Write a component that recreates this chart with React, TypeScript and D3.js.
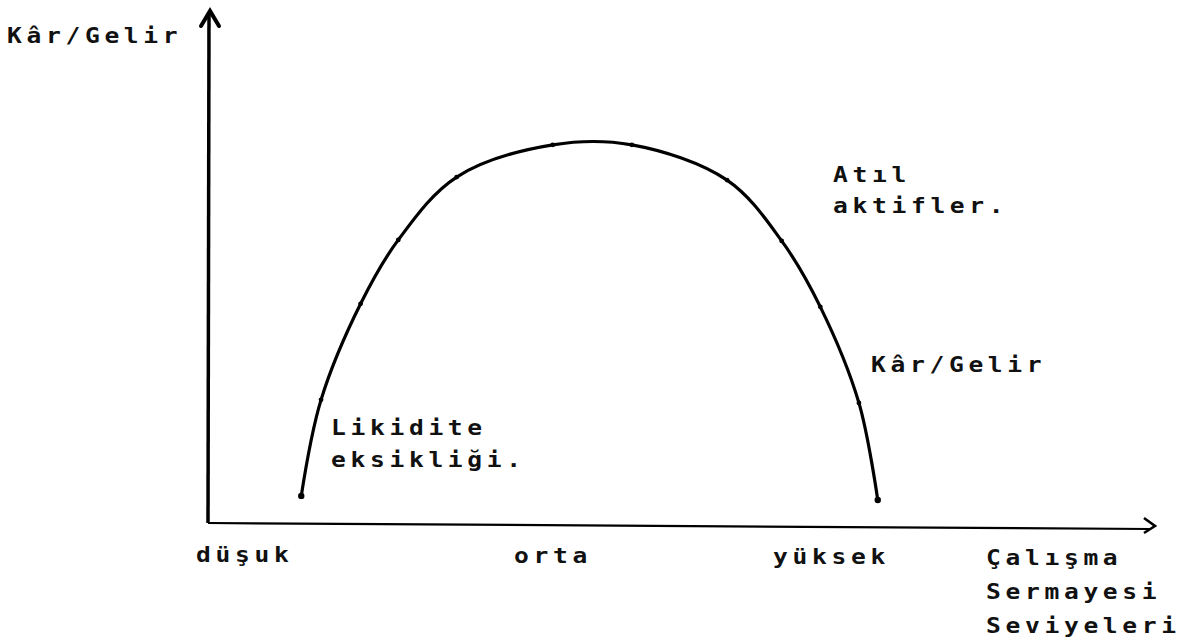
import React from "react";
import * as d3 from "d3";

// Working-capital level (x) vs. profit/income (y), both on a 0–100 relative scale
const capitalLevel = [9.9, 12.0, 16.2, 20.2, 26.4, 36.6, 45.0, 55.1, 60.9, 65.0, 69.1, 71.1];
const profitIncome = [5.3, 24.1, 42.9, 55.4, 67.7, 74.0, 74.0, 67.1, 55.2, 42.3, 23.5, 4.5];

// Axis wording
const yAxisTitle = "Kâr/Gelir";
const levelLabels = ["düşuk", "orta", "yüksek"];
const xAxisTitle = ["Çalışma", "Sermayesi", "Seviyeleri"];

// Annotations along the curve
const leftNote = ["Likidite", "eksikliği."];
const rightNote = ["Atıl", "aktifler."];
const curveLabel = "Kâr/Gelir";

const W = 1190;
const H = 637;

// Wide, typewriter-like monospace text
function Label({ x, y, children }: { x: number; y: number; children: string }) {
  return (
    <text
      transform={`translate(${x},${y}) scale(1.2,1)`}
      fontFamily="'DejaVu Sans Mono', 'Liberation Mono', monospace"
      fontSize={20.5}
      fontWeight={700}
      letterSpacing={3.9}
      fill="#111"
    >
      {children}
    </text>
  );
}

export default function App() {
  const x = d3.scaleLinear().domain([0, 100]).range([208, 1150]);
  const y = d3.scaleLinear().domain([0, 100]).range([523, 12]);

  const pts: [number, number][] = capitalLevel.map((c, i) => [x(c), y(profitIncome[i])]);
  const line = d3
    .line<[number, number]>()
    .x((d) => d[0])
    .y((d) => d[1])
    .curve(d3.curveCatmullRom.alpha(0.5));

  const x0 = x(0);
  const y0 = y(0);
  const xEnd = x(100);
  const yTop = y(100);

  return (
    <svg
      width={W}
      height={H}
      viewBox={`0 0 ${W} ${H}`}
      style={{ position: "absolute", left: 0, top: 0, background: "#fff" }}
    >
      {/* vertical axis with arrowhead */}
      <line x1={x0 + 1} y1={yTop} x2={x0} y2={y0} stroke="#000" strokeWidth={3.5} />
      <path
        d={`M${x0 - 7},${yTop + 14} L${x0 + 2},${yTop - 1} L${x0 + 11},${yTop + 14}`}
        fill="none"
        stroke="#000"
        strokeWidth={4}
        strokeLinejoin="miter"
        strokeLinecap="round"
      />

      {/* horizontal axis with open chevron */}
      <line x1={x0} y1={y0} x2={xEnd} y2={y0 + 6} stroke="#000" strokeWidth={2.2} />
      <path
        d={`M${xEnd - 6},${y0 - 5} L${xEnd + 5},${y0 + 3} L${xEnd - 6},${y0 + 10}`}
        fill="none"
        stroke="#000"
        strokeWidth={2.6}
        strokeLinejoin="miter"
      />

      {/* profit curve */}
      <path d={line(pts) ?? ""} fill="none" stroke="#000" strokeWidth={3.2} strokeLinecap="round" />
      {pts.map((p, i) => (
        <circle
          key={i}
          cx={p[0]}
          cy={p[1]}
          r={i === 0 || i === pts.length - 1 ? 3.2 : 2.4}
          fill="#000"
        />
      ))}

      {/* axis titles */}
      <Label x={7} y={43}>{yAxisTitle}</Label>
      {xAxisTitle.map((t, i) => (
        <Label key={t} x={986} y={565 + i * 34}>{t}</Label>
      ))}

      {/* level labels under the horizontal axis */}
      <Label x={196} y={562}>{levelLabels[0]}</Label>
      <Label x={514} y={563}>{levelLabels[1]}</Label>
      <Label x={773} y={564}>{levelLabels[2]}</Label>

      {/* notes */}
      {leftNote.map((t, i) => (
        <Label key={t} x={331} y={435 + i * 32}>{t}</Label>
      ))}
      {rightNote.map((t, i) => (
        <Label key={t} x={833} y={182 + i * 31}>{t}</Label>
      ))}
      <Label x={871} y={372}>{curveLabel}</Label>
    </svg>
  );
}
